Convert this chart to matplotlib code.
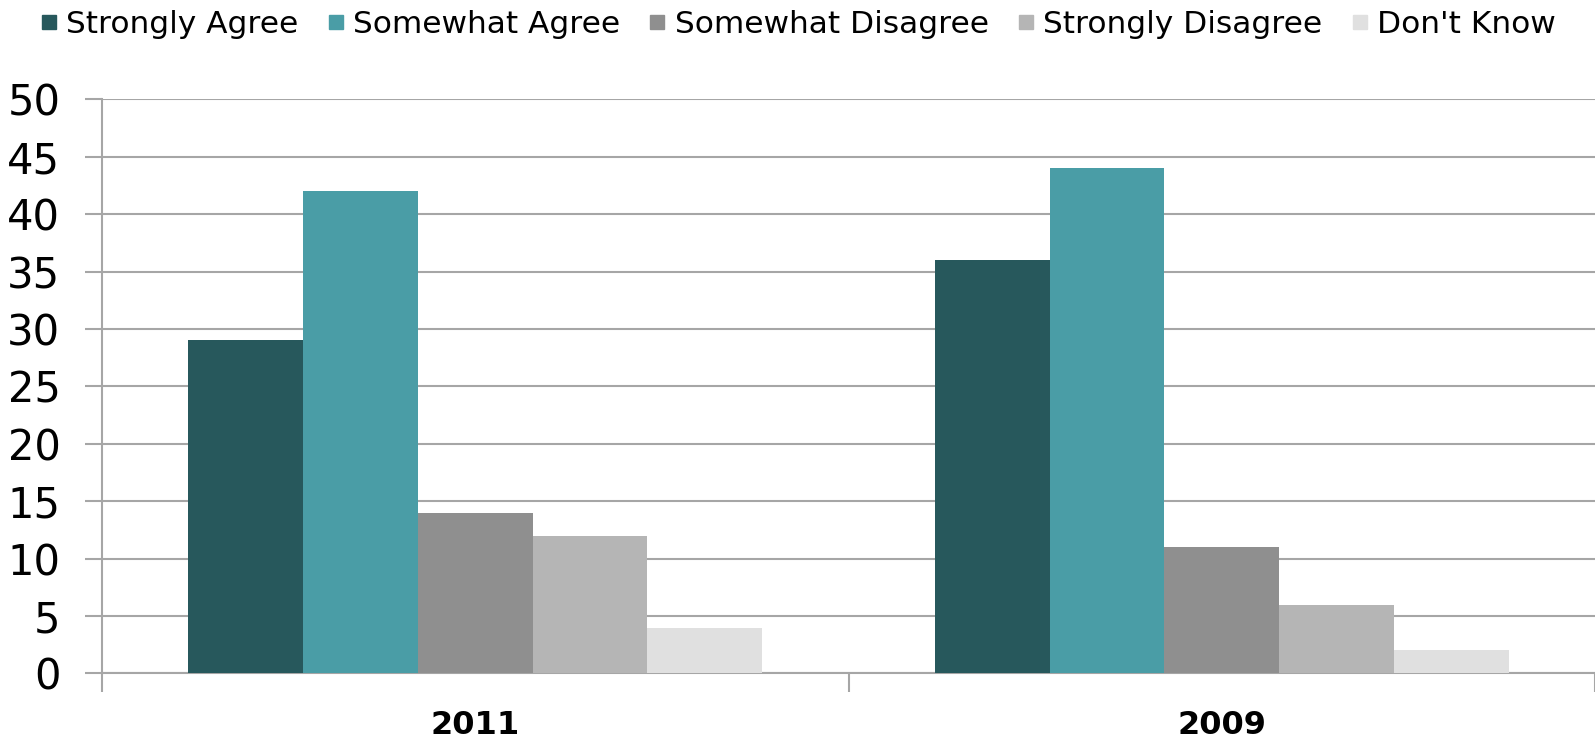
import numpy as np
import matplotlib.pyplot as plt
from matplotlib.lines import Line2D

years = ['2011', '2009']
series = ['Strongly Agree', 'Somewhat Agree', 'Somewhat Disagree', 'Strongly Disagree', "Don't Know"]
strongly_agree = [29, 36]
somewhat_agree = [42, 44]
somewhat_disagree = [14, 11]
strongly_disagree = [12, 6]
dont_know = [4, 2]
colors = ['#27585c', '#4a9da6', '#8f8f8f', '#b5b5b5', '#e0e0e0']

values = [strongly_agree, somewhat_agree, somewhat_disagree, strongly_disagree, dont_know]

fig = plt.figure(figsize=(15.95, 7.39), dpi=100)
ax = fig.add_axes([0.064, 0.0887, 0.936, 0.777])

x = np.arange(len(years))
w = 0.1537
for i, vals in enumerate(values):
    ax.bar(x + (i - 2) * w, vals, width=w, color=colors[i], zorder=3)

ax.set_xlim(-0.5, 1.5)
ax.set_ylim(0, 50)
ax.set_yticks(range(0, 51, 5))
ax.yaxis.grid(True, color='#a6a6a6', linewidth=1.5, zorder=0)

for s in ['top', 'right']:
    ax.spines[s].set_visible(False)
ax.spines['left'].set_color('#a6a6a6')
ax.spines['left'].set_linewidth(1.5)
ax.spines['bottom'].set_color('#a6a6a6')
ax.spines['bottom'].set_linewidth(1.5)

ax.tick_params(axis='y', length=12, width=1.5, color='#a6a6a6', pad=18, labelsize=30)
ax.set_xticks(x)
ax.set_xticklabels(years, fontsize=23, fontweight='bold')
ax.tick_params(axis='x', length=0, pad=26)
ax.set_xticks([-0.5, 0.5, 1.5], minor=True)
ax.tick_params(axis='x', which='minor', length=14, width=1.5, color='#a6a6a6')

handles = [Line2D([], [], linestyle='none', marker='s', markersize=10, color=c) for c in colors]
fig.legend(handles, series, loc='upper center', bbox_to_anchor=(0.5, 1.025), ncol=5,
           frameon=False, fontsize=22.5, handlelength=0.6, handletextpad=0.25,
           columnspacing=0.9)

fig.savefig('out.png', dpi=100)
